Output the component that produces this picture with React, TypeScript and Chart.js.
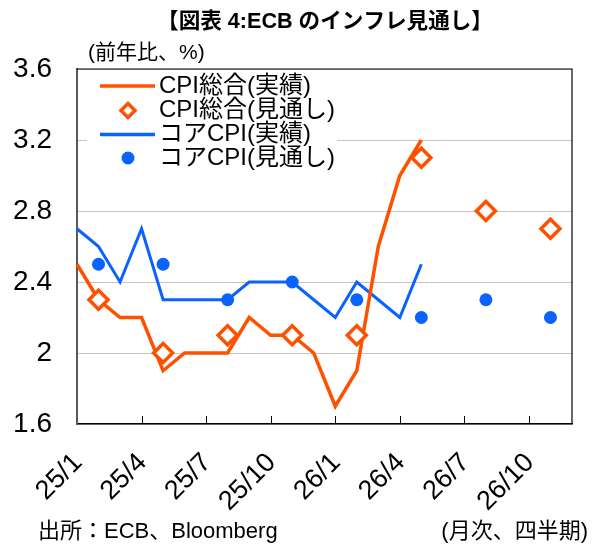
import React, { useEffect, useRef } from 'react';
import { Chart, registerables } from 'chart.js';

Chart.register(...registerables);

const months = [
  '25/1', '25/2', '25/3', '25/4', '25/5', '25/6', '25/7', '25/8', '25/9', '25/10', '25/11', '25/12',
  '26/1', '26/2', '26/3', '26/4', '26/5', '26/6', '26/7', '26/8', '26/9', '26/10', '26/11', '26/12',
];
const xTickLabels = ['25/1', '25/4', '25/7', '25/10', '26/1', '26/4', '26/7', '26/10'];
const yTicks = [1.6, 2, 2.4, 2.8, 3.2, 3.6];
const yTickLabels = ['1.6', '2', '2.4', '2.8', '3.2', '3.6'];

const cpiActual = [2.5, 2.3, 2.2, 2.2, 1.9, 2.0, 2.0, 2.0, 2.2, 2.1, 2.1, 2.0, 1.7, 1.9, 2.6, 3.0, 3.2,
  null, null, null, null, null, null, null];
const cpiForecast = [null, 2.3, null, null, 2.0, null, null, 2.1, null, null, 2.1, null,
  null, 2.1, null, null, 3.1, null, null, 2.8, null, null, 2.7, null];
const coreActual = [2.7, 2.6, 2.4, 2.7, 2.3, 2.3, 2.3, 2.3, 2.4, 2.4, 2.4, 2.3, 2.2, 2.4, 2.3, 2.2, 2.5,
  null, null, null, null, null, null, null];
const coreForecast = [null, 2.5, null, null, 2.5, null, null, 2.3, null, null, 2.4, null,
  null, 2.3, null, null, 2.2, null, null, 2.3, null, null, 2.2, null];

const seriesNames = ['CPI総合(実績)', 'CPI総合(見通し)', 'コアCPI(実績)', 'コアCPI(見通し)'];
const titleText = '【図表 4:ECB のインフレ見通し】';
const unitText = '(前年比、%)';
const sourceText = '出所：ECB、Bloomberg';
const freqText = '(月次、四半期)';

const ORANGE = '#FF5000';
const BLUE = '#0A62FF';
const FAMILY = "'Liberation Sans', 'Noto Sans CJK JP', sans-serif";

const extrasPlugin = {
  id: 'extras',
  afterDraw(chart: any) {
    const ctx = chart.ctx;
    const area = chart.chartArea;
    const xs = chart.scales.x;
    ctx.save();

    // legend background
    ctx.fillStyle = '#ffffff';
    ctx.fillRect(87, area.top + 1, 250, 98);

    // frame top and right
    ctx.strokeStyle = '#000000';
    ctx.lineWidth = 1.2;
    ctx.beginPath();
    ctx.moveTo(area.left, area.top);
    ctx.lineTo(area.right, area.top);
    ctx.lineTo(area.right, area.bottom);
    ctx.stroke();

    // inner tick marks
    ctx.lineWidth = 1;
    ctx.beginPath();
    months.forEach((m, i) => {
      if (xTickLabels.includes(m) && i > 0) {
        const x = Math.round(xs.getPixelForValue(i)) + 0.5;
        ctx.moveTo(x, area.bottom - 8);
        ctx.lineTo(x, area.bottom);
      }
    });
    ctx.stroke();

    // legend
    const rows = [86, 110.5, 134.5, 158];
    ctx.font = `24px ${FAMILY}`;
    ctx.textAlign = 'left';
    ctx.textBaseline = 'middle';
    rows.forEach((y, i) => {
      const color = i < 2 ? ORANGE : BLUE;
      if (i === 0 || i === 2) {
        ctx.strokeStyle = color;
        ctx.lineWidth = 3.5;
        ctx.beginPath();
        ctx.moveTo(100, y);
        ctx.lineTo(155, y);
        ctx.stroke();
      } else if (i === 1) {
        ctx.strokeStyle = color;
        ctx.fillStyle = '#ffffff';
        ctx.lineWidth = 3.5;
        const r = 7;
        ctx.beginPath();
        ctx.moveTo(128 - r, y);
        ctx.lineTo(128, y - r);
        ctx.lineTo(128 + r, y);
        ctx.lineTo(128, y + r);
        ctx.closePath();
        ctx.fill();
        ctx.stroke();
      } else {
        ctx.fillStyle = color;
        ctx.beginPath();
        ctx.arc(128, y, 6.5, 0, Math.PI * 2);
        ctx.fill();
      }
      ctx.fillStyle = '#000000';
      ctx.fillText(seriesNames[i], 159, y);
    });

    // title
    ctx.fillStyle = '#000000';
    ctx.font = `bold 21.6px ${FAMILY}`;
    ctx.textAlign = 'center';
    ctx.fillText(titleText, 325, 22);

    // unit label
    ctx.font = `21px ${FAMILY}`;
    ctx.textAlign = 'left';
    ctx.fillText(unitText, 88, 53);

    // footers
    ctx.font = `22px ${FAMILY}`;
    ctx.textAlign = 'left';
    ctx.fillText(sourceText, 38, 532);
    ctx.textAlign = 'right';
    ctx.fillText(freqText, 588, 532);

    ctx.restore();
  },
};

export default function App() {
  const canvasRef = useRef<HTMLCanvasElement | null>(null);

  useEffect(() => {
    const canvas = canvasRef.current;
    if (!canvas) return;
    const chart = new Chart(canvas, {
      type: 'line',
      data: {
        labels: months,
        datasets: [
          {
            label: seriesNames[1],
            data: cpiForecast,
            showLine: false,
            pointStyle: 'rectRot',
            pointRadius: 9.5,
            pointBorderWidth: 3.5,
            pointBorderColor: ORANGE,
            pointBackgroundColor: '#ffffff',
            borderColor: ORANGE,
            backgroundColor: '#ffffff',
            order: 0,
          },
          {
            label: seriesNames[0],
            data: cpiActual,
            borderColor: ORANGE,
            borderWidth: 3.5,
            pointRadius: 0,
            tension: 0,
            spanGaps: false,
            order: 1,
          },
          {
            label: seriesNames[3],
            data: coreForecast,
            showLine: false,
            pointStyle: 'circle',
            pointRadius: 6.5,
            pointBorderWidth: 0,
            pointBackgroundColor: BLUE,
            borderColor: BLUE,
            backgroundColor: BLUE,
            order: 2,
          },
          {
            label: seriesNames[2],
            data: coreActual,
            borderColor: BLUE,
            borderWidth: 3,
            pointRadius: 0,
            tension: 0,
            order: 3,
          },
        ],
      },
      options: {
        responsive: false,
        animation: false,
        devicePixelRatio: 1,
        layout: { padding: { top: 69, right: 24, left: 0, bottom: 0 } },
        plugins: {
          legend: { display: false },
          title: { display: false },
          tooltip: { enabled: false },
        },
        scales: {
          x: {
            type: 'category',
            offset: false,
            grid: { display: false, drawTicks: false },
            border: { display: true, color: '#000000', width: 1.5 },
            ticks: {
              autoSkip: false,
              minRotation: 45,
              maxRotation: 45,
              padding: 23,
              labelOffset: 1,
              color: '#000000',
              font: { family: FAMILY, size: 27 },
              callback: (_v: any, i: number) => (xTickLabels.includes(months[i]) ? months[i] : ''),
            },
            afterFit: (s: any) => {
              s.height = 121;
              s.paddingLeft = 0;
              s.paddingRight = 0;
            },
          },
          y: {
            type: 'linear',
            min: 1.6,
            max: 3.6,
            grid: { color: '#C4C4C4', lineWidth: 1, drawTicks: false },
            border: { display: true, color: '#595959', width: 2 },
            afterBuildTicks: (s: any) => {
              s.ticks = yTicks.map((v) => ({ value: v }));
            },
            ticks: {
              padding: 25,
              color: '#000000',
              font: { family: FAMILY, size: 28 },
              callback: (_v: any, i: number) => yTickLabels[i],
            },
            afterFit: (s: any) => {
              s.width = 77;
              s.paddingTop = 0;
              s.paddingBottom = 0;
            },
          },
        },
      },
      plugins: [extrasPlugin],
    } as any);
    return () => chart.destroy();
  }, []);

  return (
    <div style={{ position: 'absolute', left: 0, top: 0, width: 596, height: 545, background: '#ffffff' }}>
      <canvas ref={canvasRef} width={596} height={545} style={{ display: 'block', width: 596, height: 545 }} />
    </div>
  );
}
